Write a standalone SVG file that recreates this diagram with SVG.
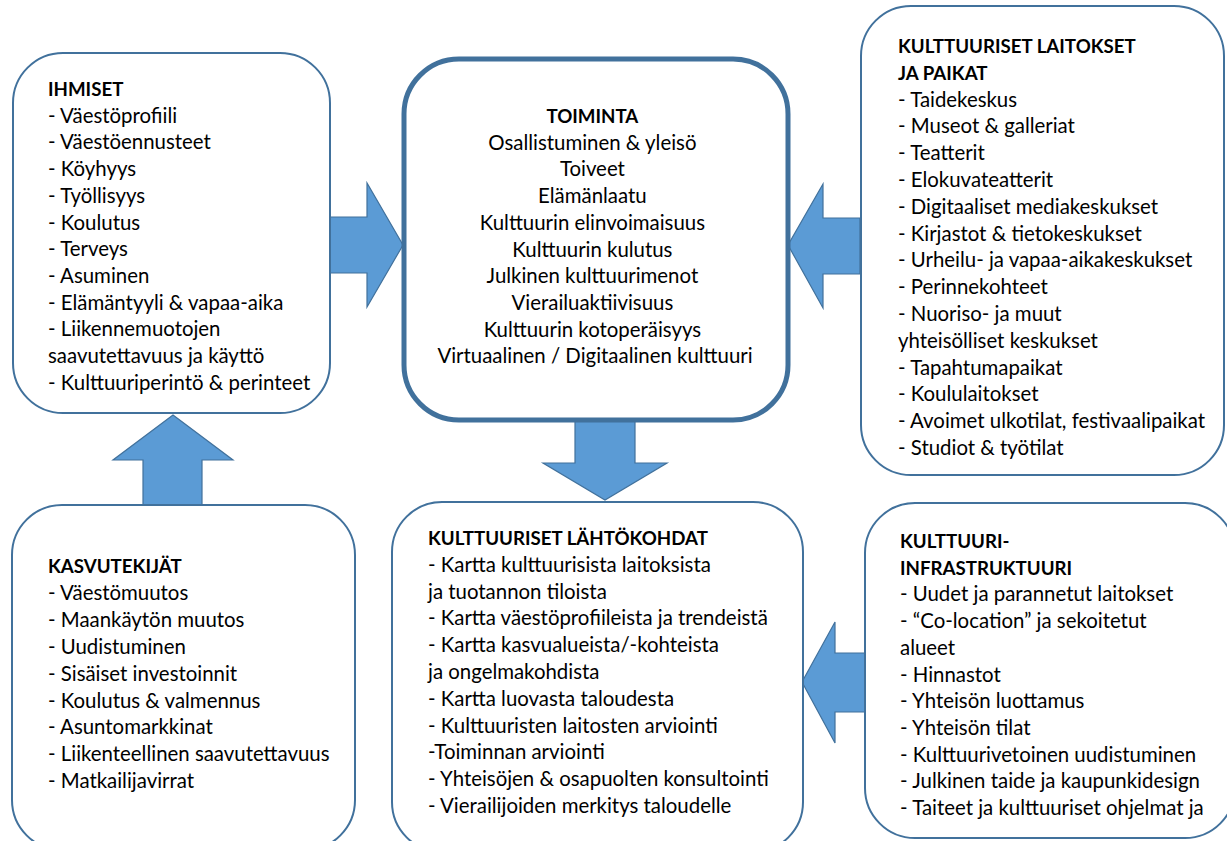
<svg xmlns="http://www.w3.org/2000/svg" width="1227" height="841" viewBox="0 0 1227 841">
<style>
.box{fill:#ffffff;stroke:#41719C;stroke-width:2}
.main{fill:#ffffff;stroke:#41719C;stroke-width:5}
.arr{fill:#5B9BD5;stroke:#41719C;stroke-width:1.2;stroke-linejoin:miter}
text{font-family:Lato,"Open Sans","Liberation Sans",sans-serif;font-size:20.4px;fill:#000}
.t{font-weight:bold;font-size:18.7px}
.c{text-anchor:middle}
</style>
<rect width="1227" height="841" fill="#ffffff"/>
<g id="connectors">
<polygon class="arr" points="330,217 367,217 367,183 403,245 367,307 367,273 330,273"/>
<polygon class="arr" points="860,218 823,218 823,184 788,245 823,308 823,274 860,274"/>
<polygon class="arr" points="575,420 635,420 635,463 667,463 605,500 543,463 575,463"/>
<polygon class="arr" points="143,505 202,505 202,460 233,460 173,415 113,460 143,460"/>
<polygon class="arr" points="865,653 835,653 835,622 802,682 835,743 835,712 865,712"/>
</g>
<g id="ihmiset">
<rect class="box" x="13" y="53" width="317" height="360" rx="50"/>
<text x="48" y="96"><tspan class="t">IHMISET</tspan>
<tspan x="48" dy="26.7">- Väestöprofiili</tspan>
<tspan x="48" dy="26.7">- Väestöennusteet</tspan>
<tspan x="48" dy="26.7">- Köyhyys</tspan>
<tspan x="48" dy="26.7">- Työllisyys</tspan>
<tspan x="48" dy="26.7">- Koulutus</tspan>
<tspan x="48" dy="26.7">- Terveys</tspan>
<tspan x="48" dy="26.7">- Asuminen</tspan>
<tspan x="48" dy="26.7">- Elämäntyyli &amp; vapaa-aika</tspan>
<tspan x="48" dy="26.7">- Liikennemuotojen</tspan>
<tspan x="48" dy="26.7">saavutettavuus ja käyttö</tspan>
<tspan x="48" dy="26.7">- Kulttuuriperintö &amp; perinteet</tspan></text>
</g>
<g id="toiminta">
<rect class="main" x="404" y="59" width="384" height="361" rx="55"/>
<text class="c" x="595" y="123"><tspan class="t">TOIMINTA</tspan>
<tspan x="595" dy="26.7">Osallistuminen &amp; yleisö</tspan>
<tspan x="595" dy="26.7">Toiveet</tspan>
<tspan x="595" dy="26.7">Elämänlaatu</tspan>
<tspan x="595" dy="26.7">Kulttuurin elinvoimaisuus</tspan>
<tspan x="595" dy="26.7">Kulttuurin kulutus</tspan>
<tspan x="595" dy="26.7">Julkinen kulttuurimenot</tspan>
<tspan x="595" dy="26.7">Vierailuaktiivisuus</tspan>
<tspan x="595" dy="26.7">Kulttuurin kotoperäisyys</tspan>
<tspan x="595" dy="26.7">Virtuaalinen / Digitaalinen kulttuuri</tspan></text>
</g>
<g id="laitokset">
<rect class="box" x="861" y="6" width="363" height="469" rx="50"/>
<text x="898" y="53"><tspan class="t">KULTTUURISET LAITOKSET</tspan>
<tspan x="898" dy="26.8" class="t">JA PAIKAT</tspan>
<tspan x="898" dy="26.8">- Taidekeskus</tspan>
<tspan x="898" dy="26.8">- Museot &amp; galleriat</tspan>
<tspan x="898" dy="26.8">- Teatterit</tspan>
<tspan x="898" dy="26.8">- Elokuvateatterit</tspan>
<tspan x="898" dy="26.8">- Digitaaliset mediakeskukset</tspan>
<tspan x="898" dy="26.8">- Kirjastot &amp; tietokeskukset</tspan>
<tspan x="898" dy="26.8">- Urheilu- ja vapaa-aikakeskukset</tspan>
<tspan x="898" dy="26.8">- Perinnekohteet</tspan>
<tspan x="898" dy="26.8">- Nuoriso- ja muut</tspan>
<tspan x="898" dy="26.8">yhteisölliset keskukset</tspan>
<tspan x="898" dy="26.8">- Tapahtumapaikat</tspan>
<tspan x="898" dy="26.8">- Koululaitokset</tspan>
<tspan x="898" dy="26.8">- Avoimet ulkotilat, festivaalipaikat</tspan>
<tspan x="898" dy="26.8">- Studiot &amp; työtilat</tspan></text>
</g>
<g id="kasvutekijat">
<rect class="box" x="12" y="505" width="343" height="345" rx="50"/>
<text x="48" y="573"><tspan class="t">KASVUTEKIJÄT</tspan>
<tspan x="48" dy="26.9">- Väestömuutos</tspan>
<tspan x="48" dy="26.9">- Maankäytön muutos</tspan>
<tspan x="48" dy="26.9">- Uudistuminen</tspan>
<tspan x="48" dy="26.9">- Sisäiset investoinnit</tspan>
<tspan x="48" dy="26.9">- Koulutus &amp; valmennus</tspan>
<tspan x="48" dy="26.9">- Asuntomarkkinat</tspan>
<tspan x="48" dy="26.9">- Liikenteellinen saavutettavuus</tspan>
<tspan x="48" dy="26.9">- Matkailijavirrat</tspan></text>
</g>
<g id="lahtokohdat">
<rect class="box" x="392" y="502" width="411" height="350" rx="50"/>
<text x="428" y="545"><tspan class="t">KULTTUURISET LÄHTÖKOHDAT</tspan>
<tspan x="428" dy="26.8">- Kartta kulttuurisista laitoksista</tspan>
<tspan x="428" dy="26.8">ja tuotannon tiloista</tspan>
<tspan x="428" dy="26.8">- Kartta väestöprofiileista ja trendeistä</tspan>
<tspan x="428" dy="26.8">- Kartta kasvualueista/-kohteista</tspan>
<tspan x="428" dy="26.8">ja ongelmakohdista</tspan>
<tspan x="428" dy="26.8">- Kartta luovasta taloudesta</tspan>
<tspan x="428" dy="26.8">- Kulttuuristen laitosten arviointi</tspan>
<tspan x="428" dy="26.8">-Toiminnan arviointi</tspan>
<tspan x="428" dy="26.8">- Yhteisöjen &amp; osapuolten konsultointi</tspan>
<tspan x="428" dy="26.8">- Vierailijoiden merkitys taloudelle</tspan></text>
</g>
<g id="infrastruktuuri">
<rect class="box" x="865" y="503" width="370" height="335" rx="50"/>
<text x="900" y="548"><tspan class="t">KULTTUURI-</tspan>
<tspan x="900" dy="26.7" class="t">INFRASTRUKTUURI</tspan>
<tspan x="900" dy="26.7">- Uudet ja parannetut laitokset</tspan>
<tspan x="900" dy="26.7">- “Co-location” ja sekoitetut</tspan>
<tspan x="900" dy="26.7">alueet</tspan>
<tspan x="900" dy="26.7">- Hinnastot</tspan>
<tspan x="900" dy="26.7">- Yhteisön luottamus</tspan>
<tspan x="900" dy="26.7">- Yhteisön tilat</tspan>
<tspan x="900" dy="26.7">- Kulttuurivetoinen uudistuminen</tspan>
<tspan x="900" dy="26.7">- Julkinen taide ja kaupunkidesign</tspan>
<tspan x="900" dy="26.7">- Taiteet ja kulttuuriset ohjelmat ja</tspan></text>
</g>
</svg>
